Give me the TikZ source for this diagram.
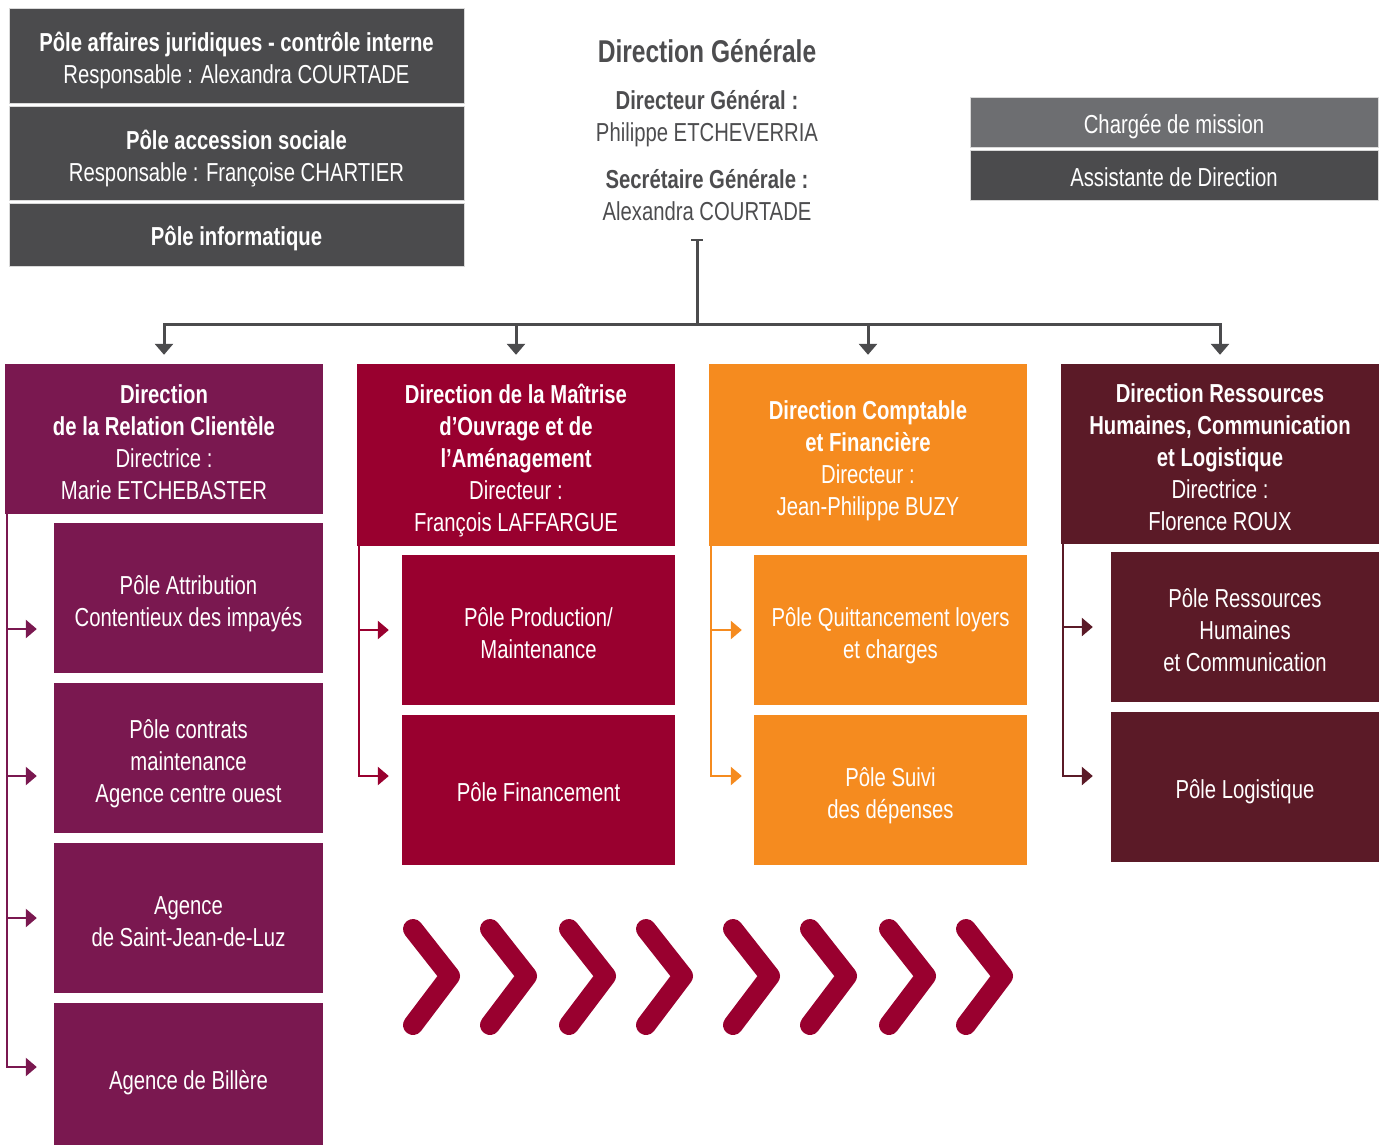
\documentclass[tikz,border=0pt]{standalone}
\usepackage{fontspec}
\setmainfont{Liberation Sans}[FakeStretch=0.78]
\usetikzlibrary{arrows.meta}

\definecolor{slate}{HTML}{4B4B4D}
\definecolor{steel}{HTML}{6D6E71}
\definecolor{inkgray}{HTML}{4D4D4F}
\definecolor{plum}{HTML}{7A1850}
\definecolor{crimson}{HTML}{99002F}
\definecolor{tangerine}{HTML}{F58B1F}
\definecolor{maroon}{HTML}{5B1A27}

\begin{document}
\begin{tikzpicture}[x=1pt,y=-1pt,
  txt/.style={align=center, font=\fontsize{26}{32}\selectfont,
    execute at begin node={\rule{0pt}{28pt}},
    execute at end node={\rule[-6pt]{0pt}{6pt}}},
  box/.style={txt, fill=#1, text=white, inner sep=0pt},
  head/.style={txt, text=inkgray, inner sep=0pt, text depth=1pt},
  lines/.style={text depth=0pt, text height=#1*32pt-8pt},
  conn/.style={draw=slate, line width=3pt},
  tree/.style={draw=#1, line width=2.5pt, -{Triangle[length=11pt,width=18pt]}},
  chev/.style={draw=crimson, line width=20pt, line cap=round, line join=round}]
\useasboundingbox (0,0) rectangle (1386,1144);

% poles rattaches a la direction generale
\node[box=slate, lines=2, draw=black!15, minimum width=455pt, minimum height=95pt] (juri) at (236.5,55.5)
  {\textbf{Pôle affaires juridiques - contrôle interne}\\Responsable : Alexandra COURTADE};
\node[box=slate, lines=2, draw=black!15, minimum width=455pt, minimum height=94pt] (access) at (236.5,153)
  {\textbf{Pôle accession sociale}\\Responsable : Françoise CHARTIER};
\node[box=slate, draw=black!15, minimum width=455pt, minimum height=63pt] (info) at (236.5,234.5)
  {\textbf{Pôle informatique}};

% direction generale
\node[text=inkgray, font=\fontsize{31.5}{32}\selectfont\bfseries] (dg) at (707,51) {Direction Générale};
\node[head] (dgdir) at (707,116) {\textbf{Directeur Général :}\\Philippe ETCHEVERRIA};
\node[head] (dgsec) at (707,195) {\textbf{Secrétaire Générale :}\\Alexandra COURTADE};

\node[box=steel, draw=black!15, minimum width=408pt, minimum height=50pt] (mission) at (1174,122)
  {Chargée de mission};
\node[box=slate, draw=black!15, minimum width=408pt, minimum height=50pt] (assist) at (1174,175)
  {Assistante de Direction};

% directions
\node[box=plum, lines=4, minimum width=318pt, minimum height=150pt] (relcli) at (164,439)
  {\textbf{Direction}\\\textbf{de la Relation Clientèle}\\Directrice :\\Marie ETCHEBASTER};
\node[box=crimson, lines=5, minimum width=318pt, minimum height=182pt] (moa) at (516,455)
  {\textbf{Direction de la Maîtrise}\\\textbf{d’Ouvrage et de}\\\textbf{l’Aménagement}\\Directeur :\\François LAFFARGUE};
\node[box=tangerine, lines=4, minimum width=318pt, minimum height=182pt] (compta) at (868,455)
  {\textbf{Direction Comptable}\\\textbf{et Financière}\\Directeur :\\Jean-Philippe BUZY};
\node[box=maroon, lines=5, minimum width=318pt, minimum height=180pt] (rh) at (1220,454)
  {\textbf{Direction Ressources}\\\textbf{Humaines, Communication}\\\textbf{et Logistique}\\Directrice :\\Florence ROUX};

% poles
\node[box=plum, lines=2, minimum width=269pt, minimum height=150pt] (attrib) at (188.5,598)
  {Pôle Attribution\\Contentieux des impayés};
\node[box=plum, lines=3, minimum width=269pt, minimum height=150pt] (contrats) at (188.5,758)
  {Pôle contrats\\maintenance\\Agence centre ouest};
\node[box=plum, lines=2, minimum width=269pt, minimum height=150pt] (sjdl) at (188.5,918)
  {Agence\\de Saint-Jean-de-Luz};
\node[box=plum, minimum width=269pt, minimum height=150pt] (billere) at (188.5,1078)
  {Agence de Billère};

\node[box=crimson, lines=2, minimum width=273pt, minimum height=150pt] (prod) at (538.5,630)
  {Pôle Production/\\Maintenance};
\node[box=crimson, minimum width=273pt, minimum height=150pt] (financ) at (538.5,790)
  {Pôle Financement};

\node[box=tangerine, lines=2, minimum width=273pt, minimum height=150pt] (quitt) at (890.5,630)
  {Pôle Quittancement loyers\\et charges};
\node[box=tangerine, lines=2, minimum width=273pt, minimum height=150pt] (depenses) at (890.5,790)
  {Pôle Suivi\\des dépenses};

\node[box=maroon, lines=3, minimum width=268pt, minimum height=150pt] (rhcom) at (1245,627)
  {Pôle Ressources\\Humaines\\et Communication};
\node[box=maroon, minimum width=268pt, minimum height=150pt] (logist) at (1245,787)
  {Pôle Logistique};

% liaisons
\coordinate (dgfoot) at (697,239);
\coordinate (hub) at (697,324);
\path[conn, {Bar[width=12pt,line width=2pt]}-] (dgfoot) -- (hub);
\foreach \d in {relcli,moa,compta,rh}
  \path[conn, -{Triangle[length=11pt,width=18pt]}] (hub) -| ([yshift=9pt]\d.north);

\foreach \p/\dy in {attrib/-31,contrats/-18,sjdl/0,billere/11}
  \path[tree=plum] ([xshift=2pt]relcli.south west) |- ([xshift=-17pt,yshift=\dy pt]\p.west);
\foreach \p/\dy in {prod/0,financ/14}
  \path[tree=crimson] ([xshift=2pt]moa.south west) |- ([xshift=-13pt,yshift=\dy pt]\p.west);
\foreach \p/\dy in {quitt/0,depenses/14}
  \path[tree=tangerine] ([xshift=2pt]compta.south west) |- ([xshift=-12pt,yshift=\dy pt]\p.west);
\foreach \p/\dy in {rhcom/0,logist/11}
  \path[tree=maroon] ([xshift=2pt]rh.south west) |- ([xshift=-18pt,yshift=\dy pt]\p.west);

% chevrons
\foreach \x in {413,490,569,646,733,810,889,966}
  \draw[chev] (\x,929) -- (\x+37,976) -- (\x,1025);
\end{tikzpicture}
\end{document}
